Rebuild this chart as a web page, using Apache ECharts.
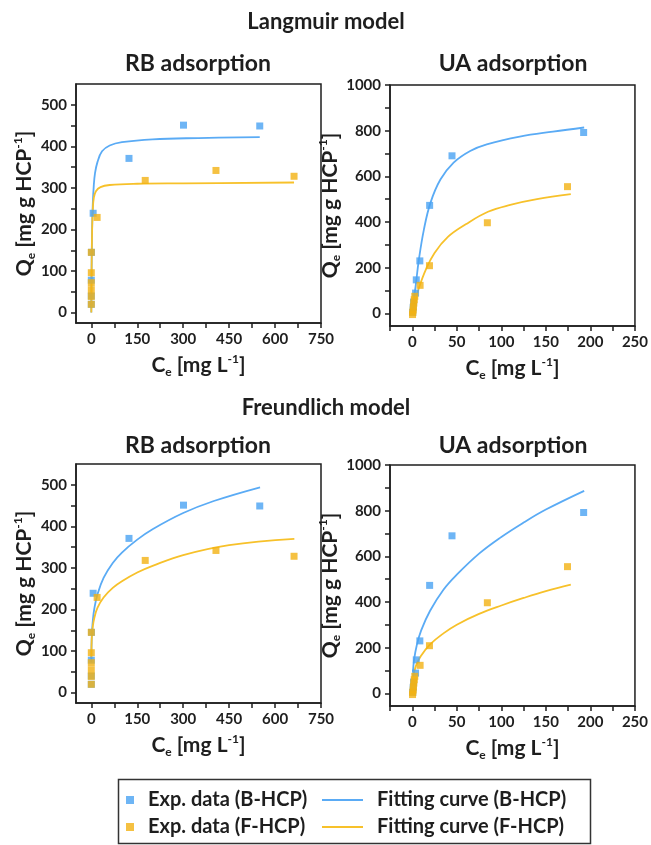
<!DOCTYPE html>
<html>
<head>
<meta charset="utf-8">
<script src="https://cdn.jsdelivr.net/npm/echarts@6/dist/echarts.min.js"></script>
<style>
  html, body { margin: 0; padding: 0; background: #fff; }
  #chart { width: 651px; height: 845px; }
</style>
</head>
<body>
<div id="chart"></div>
<script>
// 轴刻度与标签
const rbTicksX = [0, 75, 150, 225, 300, 375, 450, 525, 600, 675, 750];
const rbLabelsX = [0, 150, 300, 450, 600, 750];
const rbTicksY = [0, 50, 100, 150, 200, 250, 300, 350, 400, 450, 500];
const rbLabelsY = [0, 100, 200, 300, 400, 500];
const uaTicksX = [-25, 0, 25, 50, 75, 100, 125, 150, 175, 200, 225, 250];
const uaLabelsX = [0, 50, 100, 150, 200, 250];
const uaTicksY = [0, 100, 200, 300, 400, 500, 600, 700, 800, 900, 1000];
const uaLabelsY = [0, 200, 400, 600, 800, 1000];

// 实验数据 [Ce, Qe]
const rbExpB = [[0, 20], [0, 40], [0, 78], [0.5, 145], [6, 239], [123, 371], [301, 451], [550, 449]];
const rbExpF = [[0, 20], [0, 39], [0, 55], [0, 72], [0, 96], [0, 145], [19, 229], [176, 318], [407, 342], [662, 328]];
const uaExpB = [[0.5, 5], [1, 25], [1.5, 50], [3.7, 89], [4.5, 147], [8.5, 230], [19.5, 473], [44.6, 690], [192.4, 792]];
const uaExpF = [[0.3, -5], [0.6, 5], [1, 15], [1.3, 30], [1.7, 45], [2.2, 60], [2.8, 75], [8.8, 123], [19.3, 209], [84.3, 397], [174.3, 555]];

// 拟合曲线
const lgRbB = [[0, 0], [0.5, 60], [1, 110], [2, 175], [3, 215], [5, 265], [8, 305], [12, 335], [20, 362], [35, 388], [60, 402], [100, 410], [200, 417], [350, 420], [550, 422]];
const lgRbF = [[0, 0], [0.5, 60], [1, 110], [2, 170], [3, 210], [5, 250], [8, 275], [15, 292], [30, 302], [60, 307], [150, 310], [300, 311], [662, 313]];
const lgUaB = [[1, 40], [2, 70], [3.7, 117], [7.4, 235], [13, 366], [20.4, 484], [31.6, 586], [46.4, 660], [65, 711], [83.6, 740], [120.7, 774], [158, 796], [193, 814]];
const lgUaF = [[0.5, 10], [3, 50], [8, 118], [15, 190], [25, 265], [40, 335], [60, 390], [85, 445], [110, 475], [140, 500], [178, 522]];
const frRbB = [[0.1, 73], [0.5, 104], [1, 122], [2, 142], [5, 174], [10, 203], [20, 236], [40, 276], [70, 312], [100, 337], [150, 368], [200, 393], [300, 432], [400, 461], [551, 494]];
const frRbF = [[0.1, 82], [0.5, 108], [1, 122], [2, 137], [5, 160], [10, 180], [20, 204], [40, 229], [70, 252], [100, 268], [150, 289], [200, 305], [300, 331], [450, 355], [663, 370]];
const frUaB = [[0.8, 95], [2, 147], [5, 210], [10, 276], [20, 362], [35, 454], [50, 520], [75, 612], [100, 685], [125, 748], [150, 805], [193, 887]];
const frUaF = [[1, 72], [2, 93], [5, 129], [10, 166], [20, 215], [35, 263], [50, 301], [75, 348], [100, 385], [125, 418], [150, 448], [178, 476]];

const FONT = 'Lato';
const INK = '#1e1e1e';
const BLUE = '#4aa3f2';
const BLUE_LINE = '#5aabf5';
const ORANGE = '#f3b213';
const ORANGE_LINE = '#f7c12a';

const nameRich = {
  m: { fontFamily: FONT, fontWeight: 'bold', fontSize: 21, color: INK, lineHeight: 25 },
  s: { fontFamily: FONT, fontWeight: 'bold', fontSize: 12, color: INK, lineHeight: 25, verticalAlign: 'bottom' },
  p: { fontFamily: FONT, fontWeight: 'bold', fontSize: 12, color: INK, lineHeight: 25, verticalAlign: 'top' },
};

const tickLabel = (values) => ({
  customValues: values, margin: 9, color: INK,
  fontFamily: FONT, fontWeight: 'bold', fontSize: 15,
  formatter: v => String(v),
});

// 坐标轴
const makeX = (idx, min, max, ticks, labels) => ({
  type: 'value', gridIndex: idx, min, max,
  name: '{m|C}{s|e}{m| [mg L}{p|-1}{m|]}',
  nameLocation: 'middle', nameGap: 30,
  nameTextStyle: { rich: nameRich },
  splitLine: { show: false },
  axisLine: { onZero: false, lineStyle: { color: INK, width: 1.5 } },
  axisTick: { length: 5, customValues: ticks, lineStyle: { color: INK, width: 1.5 } },
  axisLabel: tickLabel(labels),
});
const makeY = (idx, min, max, ticks, labels) => ({
  type: 'value', gridIndex: idx, min, max,
  name: '{m|Q}{s|e}{m| [mg g HCP}{p|-1}{m|]}',
  nameLocation: 'middle', nameGap: 39,
  nameTextStyle: { rich: nameRich },
  splitLine: { show: false },
  axisLine: { onZero: false, lineStyle: { color: INK, width: 1.5 } },
  axisTick: { length: 5, customValues: ticks, lineStyle: { color: INK, width: 1.5 } },
  axisLabel: tickLabel(labels),
});

const lineS = (name, idx, data, color) => ({
  name, type: 'line', xAxisIndex: idx, yAxisIndex: idx, data,
  showSymbol: false, symbol: 'none', smooth: 0.4,
  lineStyle: { color, width: 1.8 }, itemStyle: { color }, z: 2, animation: false,
});
const dotS = (name, idx, data, color) => ({
  name, type: 'scatter', xAxisIndex: idx, yAxisIndex: idx, data,
  symbol: 'rect', symbolSize: 7, itemStyle: { color }, z: 3, animation: false,
});

const titleS = (text, x, y, size) => ({
  text, left: x, top: y, textAlign: 'center', padding: 0,
  textStyle: { fontFamily: FONT, fontWeight: 'bold', fontSize: size, color: INK },
});

const grid = (left, top, width, height) => ({
  left, top, width, height, show: true, borderColor: INK, borderWidth: 1.5, backgroundColor: 'transparent',
});

const legendText = { fontFamily: FONT, fontWeight: 'bold', fontSize: 20, lineHeight: 20, color: INK, padding: [0, 0, 0, 9] };

const myChart = echarts.init(document.getElementById('chart'), null, { renderer: 'canvas' });

const option = {
  backgroundColor: '#fff',
  title: [
    titleS('Langmuir model', 326, 11, 22),
    titleS('RB adsorption', 198, 52, 23),
    titleS('UA adsorption', 513, 52, 23),
    titleS('Freundlich model', 326, 397, 22),
    titleS('RB adsorption', 198, 434, 23),
    titleS('UA adsorption', 513, 434, 23),
  ],
  grid: [
    grid(76, 84, 245, 239),
    grid(390, 85, 246, 241),
    grid(76, 464, 245, 239),
    grid(390, 465, 246, 241),
  ],
  xAxis: [
    makeX(0, -50, 750, rbTicksX, rbLabelsX),
    makeX(1, -25, 250, uaTicksX, uaLabelsX),
    makeX(2, -50, 750, rbTicksX, rbLabelsX),
    makeX(3, -25, 250, uaTicksX, uaLabelsX),
  ],
  yAxis: [
    makeY(0, -25, 550, rbTicksY, rbLabelsY),
    makeY(1, -55, 1000, uaTicksY, uaLabelsY),
    makeY(2, -25, 550, rbTicksY, rbLabelsY),
    makeY(3, -55, 1000, uaTicksY, uaLabelsY),
  ],
  legend: [
    {
      data: ['Exp. data (B-HCP)', 'Exp. data (F-HCP)'],
      orient: 'vertical', left: 126, top: 790, itemGap: 7, padding: 0,
      itemWidth: 8, itemHeight: 8, icon: 'rect',
      textStyle: legendText,
    },
    {
      data: ['Fitting curve (B-HCP)', 'Fitting curve (F-HCP)'],
      orient: 'vertical', left: 322, top: 790, itemGap: 7, padding: 0,
      itemWidth: 41, itemHeight: 2, icon: 'rect',
      textStyle: legendText,
    },
  ],
  graphic: [
    {
      type: 'rect', left: 116, top: 777, z: 100,
      shape: { width: 472, height: 64 },
      style: { fill: 'none', stroke: '#333', lineWidth: 1.5 },
    },
  ],
  series: [
    lineS('Fitting curve (B-HCP)', 0, lgRbB, BLUE_LINE),
    lineS('Fitting curve (F-HCP)', 0, lgRbF, ORANGE_LINE),
    dotS('Exp. data (B-HCP)', 0, rbExpB, BLUE),
    dotS('Exp. data (F-HCP)', 0, rbExpF, ORANGE),

    lineS('Fitting curve (B-HCP)', 1, lgUaB, BLUE_LINE),
    lineS('Fitting curve (F-HCP)', 1, lgUaF, ORANGE_LINE),
    dotS('Exp. data (B-HCP)', 1, uaExpB, BLUE),
    dotS('Exp. data (F-HCP)', 1, uaExpF, ORANGE),

    lineS('Fitting curve (B-HCP)', 2, frRbB, BLUE_LINE),
    lineS('Fitting curve (F-HCP)', 2, frRbF, ORANGE_LINE),
    dotS('Exp. data (B-HCP)', 2, rbExpB, BLUE),
    dotS('Exp. data (F-HCP)', 2, rbExpF, ORANGE),

    lineS('Fitting curve (B-HCP)', 3, frUaB, BLUE_LINE),
    lineS('Fitting curve (F-HCP)', 3, frUaF, ORANGE_LINE),
    dotS('Exp. data (B-HCP)', 3, uaExpB, BLUE),
    dotS('Exp. data (F-HCP)', 3, uaExpF, ORANGE),
  ],
};

myChart.setOption(option);
window.addEventListener('resize', () => myChart.resize());
</script>
</body>
</html>
